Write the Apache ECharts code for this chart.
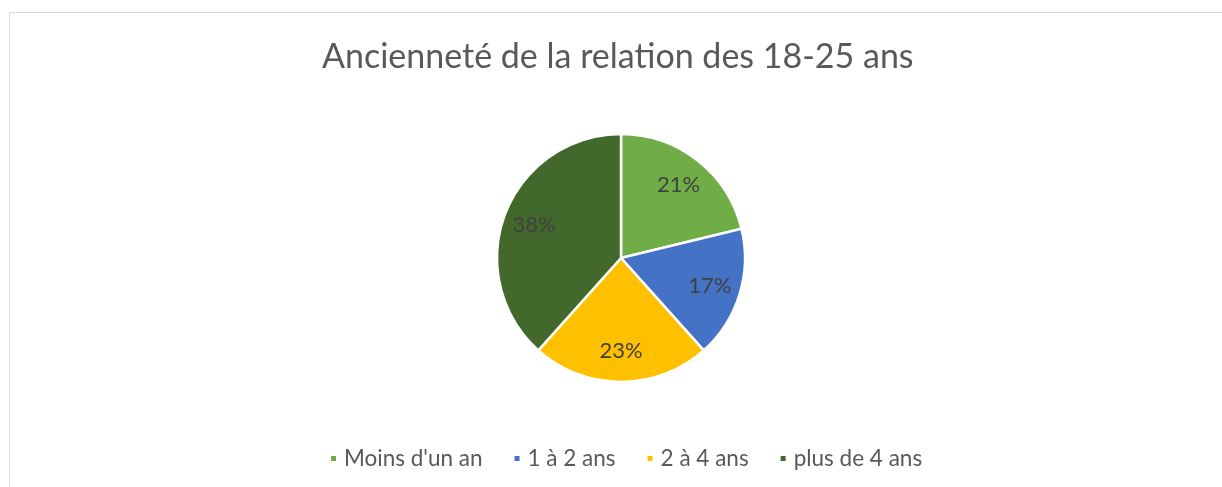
<!DOCTYPE html>
<html>
<head>
<meta charset="utf-8">
<script src="https://cdn.jsdelivr.net/npm/echarts@6/dist/echarts.min.js"></script>
<style>
html,body{margin:0;padding:0;background:#fff;}
#chart{width:1222px;height:487px;}
</style>
</head>
<body>
<div id="chart"></div>
<script>
const titleText = "Ancienneté de la relation des 18-25 ans";
const categories = ["Moins d'un an", "1 à 2 ans", "2 à 4 ans", "plus de 4 ans"];
const values = [21, 17, 23, 38];
const colors = ["#70AD47", "#4472C4", "#FFC000", "#43682B"];

const FONT = "Lato";
const chart = echarts.init(document.getElementById('chart'), null, {renderer: 'canvas'});

const mainData = categories.map((name, i) => ({
  name: name, value: values[i], itemStyle: {color: colors[i]}
}));
const labelData = categories.map((name, i) => ({
  name: name, value: values[i], itemStyle: {color: 'rgba(0,0,0,0)'}
}));

chart.setOption({
  backgroundColor: '#ffffff',
  animation: false,
  title: {
    text: titleText,
    left: 317,
    top: 35,
    textStyle: {fontFamily: FONT, fontSize: 34, fontWeight: 'normal', color: '#595959'}
  },
  legend: {
    data: categories,
    left: 329,
    top: 447,
    padding: 0,
    icon: 'rect',
    itemWidth: 7,
    itemHeight: 7,
    itemGap: 30,
    textStyle: {fontFamily: FONT, fontSize: 22.5, color: '#595959', padding: [0, 0, 0, 2]}
  },
  graphic: [{
    type: 'rect',
    shape: {x: 9.5, y: 12.5, width: 1300, height: 600},
    style: {fill: 'none', stroke: '#d9d9d9', lineWidth: 1},
    silent: true, z: -1
  }],
  series: [{
    type: 'pie',
    center: [621, 258],
    radius: [0, 124],
    startAngle: 90,
    clockwise: true,
    data: mainData,
    label: {show: false},
    labelLine: {show: false},
    itemStyle: {borderColor: '#ffffff', borderWidth: 2.5},
    emphasis: {disabled: true}
  }, {
    type: 'pie',
    center: [621, 258],
    radius: [56, 124],
    startAngle: 90,
    clockwise: true,
    silent: true,
    data: labelData,
    label: {
      show: true, position: 'inside',
      formatter: '{c}%',
      fontFamily: FONT, fontSize: 22, color: '#404040'
    },
    labelLine: {show: false},
    emphasis: {disabled: true}
  }]
});
</script>
</body>
</html>
